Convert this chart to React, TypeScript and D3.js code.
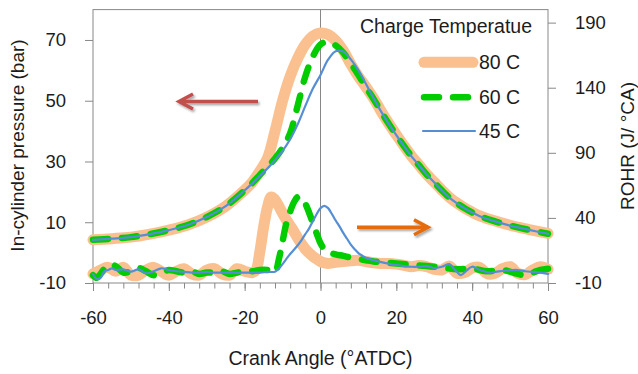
import { useEffect, useRef } from 'react'
import * as d3 from 'd3'

// crank angle grid for the pressure traces
const pressureAngle = [-60, -55, -50, -45, -40, -35, -30, -25, -20, -18, -16, -14, -12, -10, -8, -6, -4, -2, 0, 2, 4, 6, 8, 10, 12, 14, 16, 18, 20, 22, 24, 26, 28, 30, 32, 34, 36, 38, 40, 42, 45, 50, 55, 60]
const pressure80 = [4.2, 4.6, 5.1, 6.1, 7.4, 9.1, 11.7, 15.3, 20.6, 23.2, 26.8, 31, 40, 50, 58, 64, 68.5, 71.3, 72.3, 71.8, 69.8, 66.5, 62, 58, 54.5, 50.8, 46.5, 42.5, 38.8, 35.2, 31.8, 28.8, 25.8, 23.2, 20.6, 18.2, 16.3, 14.7, 13.3, 12.1, 10.8, 9, 7.6, 6.3]
const pressure60 = [4.2, 4.6, 5.1, 6.1, 7.4, 9.1, 11.7, 15.3, 20.5, 22.9, 25.6, 28.2, 31, 34.5, 39.3, 48.5, 58, 64.6, 68.5, 69.5, 68.2, 65.8, 62.3, 58.5, 54.4, 50.6, 46.4, 42.4, 38.7, 35.1, 31.7, 28.7, 25.7, 23.1, 20.5, 18.1, 16.2, 14.6, 13.2, 12, 10.7, 8.9, 7.5, 6.2]
const pressure45 = [4.2, 4.6, 5.1, 6.1, 7.4, 9.1, 11.7, 15.3, 20.5, 22.8, 25.3, 27.7, 30.5, 33.5, 37.3, 42.3, 48.3, 54, 58.5, 63.5, 66.3, 66.2, 63.6, 60, 55.5, 50.8, 46.4, 42.4, 38.7, 35.1, 31.7, 28.7, 25.7, 23.1, 20.5, 18.1, 16.2, 14.6, 13.2, 12, 10.7, 8.9, 7.5, 6.2]

// rate of heat release traces
const rohr80Angle = [-60, -58, -56, -54, -52, -50, -48, -46, -44, -42, -40, -38, -36, -34, -32, -30, -28, -26, -24, -22, -20, -18, -17, -16, -15, -14, -13, -12, -11, -10, -9, -8, -7, -6, -5, -4, -3, -2, -1, 0, 1, 2, 4, 6, 8, 10, 12, 14, 16, 18, 20, 22, 24, 26, 28, 30, 32, 34, 36, 38, 40, 42, 44, 46, 48, 50, 52, 54, 56, 58, 60]
const rohr80 = [-3, 0, 2, -1, 2, -4, -4, 0, 2, -1, -4, -1, 1, -3, -4, 0, 1, -3, -4, 1, -1, -2, 0, 14, 33, 48, 56, 54, 49, 43.5, 38.5, 34, 29.5, 24.5, 20, 16, 13, 10.5, 8.5, 6.5, 5.5, 5, 6, 6.5, 7, 7.5, 6.5, 5.5, 5, 5, 4.5, 3.5, 2.5, 3.5, 2.5, 0.5, 0, 3, -2.5, -2, 1.5, 2, -3, -2.5, 1, 2.5, -2.5, -3.5, 0, 2.5, 0.5]
const rohr60Angle = [-60, -59, -58, -56, -54, -52, -50, -48, -46, -44, -42, -40, -38, -36, -34, -32, -30, -28, -26, -24, -22, -20, -18, -16, -14, -13, -12, -11, -10, -9, -8, -7, -6, -5, -4, -3, -2, -1, 0, 1, 2, 4, 6, 8, 10, 12, 14, 16, 18, 20, 24, 28, 32, 36, 40, 44, 48, 52, 54, 56, 58, 60]
const rohr60 = [-4, -6, -3, 4, 3, -2, -1, 1.5, -1, -4, -2, 0, -1, -2, -1, -3, -2, -2, -1, -3, -2, -1, -1, 0, 0, -1, -2, 8, 22, 36, 45, 52, 56, 55.5, 51, 44, 36, 28, 20.5, 16, 13.5, 12, 10.8, 9.5, 8.5, 7.5, 6.5, 6, 5.5, 5, 4, 3, 2, 0.5, 1, -1, 0, -3, -4, -2, 0, 1]
const rohr45Angle = [-60, -59, -58, -57, -56, -55, -54, -52, -50, -48, -46, -44, -42, -40, -38, -36, -34, -32, -30, -28, -26, -24, -22, -20, -18, -16, -14, -12, -11, -10, -9, -8, -7, -6, -5, -4, -3, -2, -1, 0, 1, 2, 3, 4, 5, 6, 7, 8, 9, 10, 11, 12, 14, 16, 18, 20, 22, 24, 26, 28, 30, 32, 34, 35.5, 37, 38.5, 40, 42, 44.5, 47, 50, 52, 54, 56, 58, 60]
const rohr45 = [-3, -7, -6, -1, 0, 1.3, 0, 0.5, -1.3, 0.5, -2.5, -1, 1.3, 0, -1, -1.5, -2, -2, -1.5, -2, -2, -2, -2.2, -2, -2, -2, -1.5, -1.3, 1, 4.5, 8.5, 12.3, 15.5, 19, 23, 27.5, 32, 37.5, 43, 47.5, 49.2, 47.5, 43, 38, 33.5, 28.5, 24, 19.5, 16, 13, 11, 9.3, 7.5, 6, 4.8, 3.8, 3, 2.5, 2.5, 3, 1.5, 2.5, 4.5, 0, -3.9, -0.5, 2.5, 0, -2.1, -1, -0.2, 0, -1, -1.5, -2, -3]

const legendLabels = ['80 C', '60 C', '45 C']
const pressureTicks = [-10, 10, 30, 50, 70]
const rohrTicks = [-10, 40, 90, 140, 190]
const angleTicks = [-60, -40, -20, 0, 20, 40, 60]

const FONT = "'Liberation Sans', Arial, sans-serif"
const AXIS = '#888888'
const TEXT = '#1c1c1c'

const styles = [
	{ color: '#FAC090', width: 11, dash: null },
	{ color: '#00CC00', width: 6.5, dash: '15 14' },
	{ color: '#558ED5', width: 2.2, dash: null },
]

const App = () => {
	const svgRef = useRef()

	useEffect(() => {
		const W = 638
		const H = 374
		const left = 93
		const right = 548
		const top = 9.6
		const bottom = 283

		d3.select(svgRef.current).selectAll('*').remove()
		const svg = d3.select(svgRef.current).attr('width', W).attr('height', H)

		const x = d3.scaleLinear().domain([-60, 60]).range([left, right])
		const yP = d3.scaleLinear().domain([-10, 80]).range([bottom, top])
		const yR = d3.scaleLinear().domain([-10, 200]).range([bottom, top])

		// arrow shadow
		const defs = svg.append('defs')
		defs
			.append('filter')
			.attr('id', 'shadow')
			.attr('x', '-20%')
			.attr('y', '-50%')
			.attr('width', '140%')
			.attr('height', '200%')
			.append('feDropShadow')
			.attr('dx', 1.5)
			.attr('dy', 2)
			.attr('stdDeviation', 1.3)
			.attr('flood-color', '#000')
			.attr('flood-opacity', 0.35)

		// frame
		svg
			.append('rect')
			.attr('x', left)
			.attr('y', top)
			.attr('width', right - left)
			.attr('height', bottom - top)
			.attr('fill', 'none')
			.attr('stroke', AXIS)
			.attr('stroke-width', 1)

		// TDC line
		svg
			.append('line')
			.attr('x1', x(0))
			.attr('x2', x(0))
			.attr('y1', top)
			.attr('y2', bottom)
			.attr('stroke', AXIS)
			.attr('stroke-width', 1)

		const plain = (d) => String(d)
		const styleAxis = (g) => {
			g.select('.domain').remove()
			g.selectAll('line').attr('stroke', AXIS)
			g.selectAll('text')
				.style('font-family', FONT)
				.style('font-size', '18.5px')
				.attr('fill', TEXT)
		}

		// x minor + major ticks
		svg
			.append('g')
			.attr('transform', `translate(0,${bottom})`)
			.call(d3.axisBottom(x).tickValues(d3.range(-60, 61, 4)).tickSize(5.5).tickFormat(() => ''))
			.call(styleAxis)
		svg
			.append('g')
			.attr('transform', `translate(0,${bottom})`)
			.call(d3.axisBottom(x).tickValues(angleTicks).tickSize(8).tickPadding(20).tickFormat(plain))
			.call(styleAxis)

		svg
			.append('g')
			.attr('transform', `translate(${left},0)`)
			.call(d3.axisLeft(yP).tickValues(pressureTicks).tickSize(8).tickPadding(19).tickFormat(plain))
			.call(styleAxis)

		svg
			.append('g')
			.attr('transform', `translate(${right},0)`)
			.call(d3.axisRight(yR).tickValues(rohrTicks).tickSize(8).tickPadding(19).tickFormat(plain))
			.call(styleAxis)

		// series
		const series = [
			{ a: pressureAngle, v: pressure80, y: yP, s: styles[0] },
			{ a: rohr80Angle, v: rohr80, y: yR, s: styles[0] },
			{ a: pressureAngle, v: pressure60, y: yP, s: styles[1] },
			{ a: rohr60Angle, v: rohr60, y: yR, s: styles[1] },
			{ a: pressureAngle, v: pressure45, y: yP, s: styles[2] },
			{ a: rohr45Angle, v: rohr45, y: yR, s: styles[2] },
		]
		series.forEach((d) => {
			const line = d3
				.line()
				.x((_, i) => x(d.a[i]))
				.y((v) => d.y(v))
				.curve(d3.curveCatmullRom.alpha(0.5))
			const p = svg
				.append('path')
				.attr('d', line(d.v))
				.attr('fill', 'none')
				.attr('stroke', d.s.color)
				.attr('stroke-width', d.s.width)
				.attr('stroke-linejoin', 'round')
				.attr('stroke-linecap', 'round')
			if (d.s.dash) p.attr('stroke-dasharray', d.s.dash)
		})

		// arrows
		const arrow = (x1, x2, y, color) => {
			const g = svg.append('g').attr('filter', 'url(#shadow)')
			const dir = x2 > x1 ? 1 : -1
			g.append('line')
				.attr('x1', x1)
				.attr('x2', x2 - dir * 1.5)
				.attr('y1', y)
				.attr('y2', y)
				.attr('stroke', color)
				.attr('stroke-width', 3.5)
			g.append('path')
				.attr('d', `M${x2 - dir * 14},${y - 7.5}L${x2},${y}L${x2 - dir * 14},${y + 7.5}`)
				.attr('fill', 'none')
				.attr('stroke', color)
				.attr('stroke-width', 3.5)
				.attr('stroke-linejoin', 'miter')
		}
		arrow(258, 179, 101.5, '#C0504D')
		arrow(357, 428, 227.3, '#E46C0A')

		// legend
		svg
			.append('text')
			.attr('x', 532)
			.attr('y', 33.3)
			.attr('text-anchor', 'end')
			.style('font-family', FONT)
			.style('font-size', '19.5px')
			.attr('fill', TEXT)
			.text('Charge Temperatue')
		const legendY = [62.3, 97.3, 131]
		legendLabels.forEach((lab, i) => {
			const s = styles[i]
			const l = svg
				.append('line')
				.attr('x1', i === 2 ? 423 : 424)
				.attr('x2', i === 2 ? 475 : 473)
				.attr('y1', legendY[i])
				.attr('y2', legendY[i])
				.attr('stroke', s.color)
				.attr('stroke-width', s.width)
				.attr('stroke-linecap', 'round')
			if (s.dash) l.attr('stroke-dasharray', s.dash)
			svg
				.append('text')
				.attr('x', 479)
				.attr('y', legendY[i] + 6.8)
				.style('font-family', FONT)
				.style('font-size', '19.5px')
				.attr('fill', TEXT)
				.text(lab)
		})

		// axis titles
		svg
			.append('text')
			.attr('x', 320.5)
			.attr('y', 365)
			.attr('text-anchor', 'middle')
			.style('font-family', FONT)
			.style('font-size', '19.5px')
			.attr('fill', TEXT)
			.text('Crank Angle (°ATDC)')
		svg
			.append('text')
			.attr('transform', 'translate(23.5,145.5) rotate(-90)')
			.attr('text-anchor', 'middle')
			.style('font-family', FONT)
			.style('font-size', '19px')
			.attr('fill', TEXT)
			.text('In-cylinder pressure (bar)')
		svg
			.append('text')
			.attr('transform', 'translate(634,146) rotate(-90)')
			.attr('text-anchor', 'middle')
			.style('font-family', FONT)
			.style('font-size', '19px')
			.attr('fill', TEXT)
			.text('ROHR (J/ °CA)')
	}, [])

	return <svg ref={svgRef} style={{ position: 'absolute', left: 0, top: 0, background: '#fff' }}></svg>
}

export default App
